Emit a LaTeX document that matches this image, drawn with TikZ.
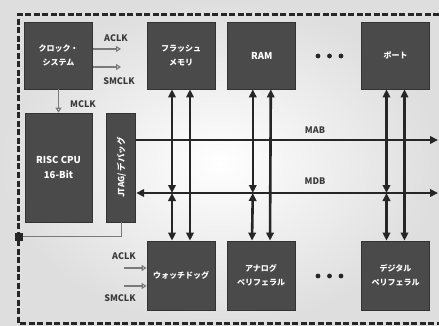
\documentclass[tikz,border=0pt]{standalone}
\usepackage{fontspec}
\setmainfont{Noto Sans CJK JP}
\usepackage{tikz}
\usetikzlibrary{arrows.meta,positioning,calc}
\definecolor{blockfill}{HTML}{4A4A4A}
\definecolor{blockline}{HTML}{333333}
\definecolor{busline}{HTML}{262626}
\definecolor{clkline}{HTML}{7A7A7A}
\definecolor{labeltext}{HTML}{3A3A3A}
\definecolor{bgouter}{HTML}{DEDEDE}

\begin{document}
\begin{tikzpicture}[x=1pt,y=-1pt,
  >={Triangle[length=8pt,width=7.5pt]},
  blk/.style={draw=blockline,fill=blockfill,line width=0.8pt,text=white,
              font=\fontsize{8}{14}\selectfont\bfseries,align=center,
              minimum width=68pt,minimum height=67pt,inner sep=2pt},
  lat/.style={font=\fontsize{9.5}{15}\selectfont\bfseries},
  bus/.style={busline,line width=2.6pt},
  clk/.style={clkline,line width=1.2pt,
              -{Triangle[open,fill=white,length=5pt,width=6pt]}},
  lbl/.style={labeltext,font=\fontsize{9}{10}\selectfont\bfseries,inner sep=0pt},
  node distance=12pt and 12pt]
\useasboundingbox (0,0) rectangle (439,326);
\shade[inner color=white,outer color=bgouter] (0,0) rectangle (439,326);
% chip outline
\draw[busline,line width=3pt,dash pattern=on 6pt off 2.5pt]
      (439,15) -- (18,15) -- (18,323) -- (439,323);
% top row
\node[blk] (clock) at (58.5,55.5) {クロック・\\システム};
\node[blk] (flash) at (181,55.5) {フラッシュ\\メモリ};
\node[blk,lat,right=of flash] (ram) {RAM};
\node[blk] (port) at (395.5,55.5) {ポート};
% cpu + debug
\node[blk,lat,minimum width=67pt,minimum height=109pt] (cpu) at (58.5,167.5) {RISC CPU\\16-Bit};
\node[blk,minimum width=29pt,minimum height=109pt,right=14pt of cpu] (jtag) {};
\node[white,font=\fontsize{8.5}{10}\selectfont\bfseries,rotate=90] (jtagtxt) at (jtag) {JTAG/ デバッグ};
% bottom row
\node[blk,minimum height=69pt] (wdog) at (181,275.5) {ウォッチドッグ};
\node[blk,minimum height=69pt] (analog) at (261,275.5) {アナログ\\ペリフェラル};
\node[blk,minimum height=69pt] (digital) at (395.5,275.5) {デジタル\\ペリフェラル};
\foreach \y in {56,276}
  \foreach \x in {318,329.5,341} \fill[busline] (\x,\y) circle (2.4pt);
% buses
\coordinate (mabR) at (438,140);
\coordinate (mdbR) at (438,193);
\foreach \t/\b in {flash/wdog,ram/analog,port/digital}{
  \draw[bus,<->] ($(\t.south)+(-9,0)$) -- ($(\t.south|-mdbR)+(-9,0)$);
  \draw[bus,<->] ($(\t.south|-mdbR)+(-9,0)$) -- ($(\b.north)+(-9,0)$);
  \draw[bus,<->] ($(\t.south)+(9,0)$) -- ($(\b.north)+(9,0)$);
}
\draw[bus,->] (jtag.east|-mabR) -- (mabR);
\draw[bus,<->] (jtag.east|-mdbR) -- (mdbR);
\node[lbl] (mab) at (315,130) {MAB};
\node[lbl] (mdb) at (315,181) {MDB};
% clocks
\coordinate (aclk) at (121,49);
\coordinate (smclk) at (121,67);
\draw[clk] (clock.east|-aclk) -- (aclk);
\draw[clk] (clock.east|-smclk) -- (smclk);
\draw[clk] (clock.south) -- (cpu.north);
\node[lbl] (aclklbl) at (116,38) {ACLK};
\node[lbl] (smclklbl) at (119,81.5) {SMCLK};
\node[lbl] (mclklbl) at (83,104) {MCLK};
\coordinate (wa) at (124,268);
\coordinate (ws) at (124,286);
\draw[clk] (wa) -- (wa-|wdog.west);
\draw[clk] (ws) -- (ws-|wdog.west);
\node[lbl] (walbl) at (124,256) {ACLK};
\node[lbl] (wslbl) at (120,298) {SMCLK};
% debug pin
\node[fill=busline,minimum size=8pt,inner sep=0pt] (pin) at (19,236.5) {};
\draw[clkline,line width=1.3pt] (jtag.south) |- (pin);
\end{tikzpicture}
\end{document}
